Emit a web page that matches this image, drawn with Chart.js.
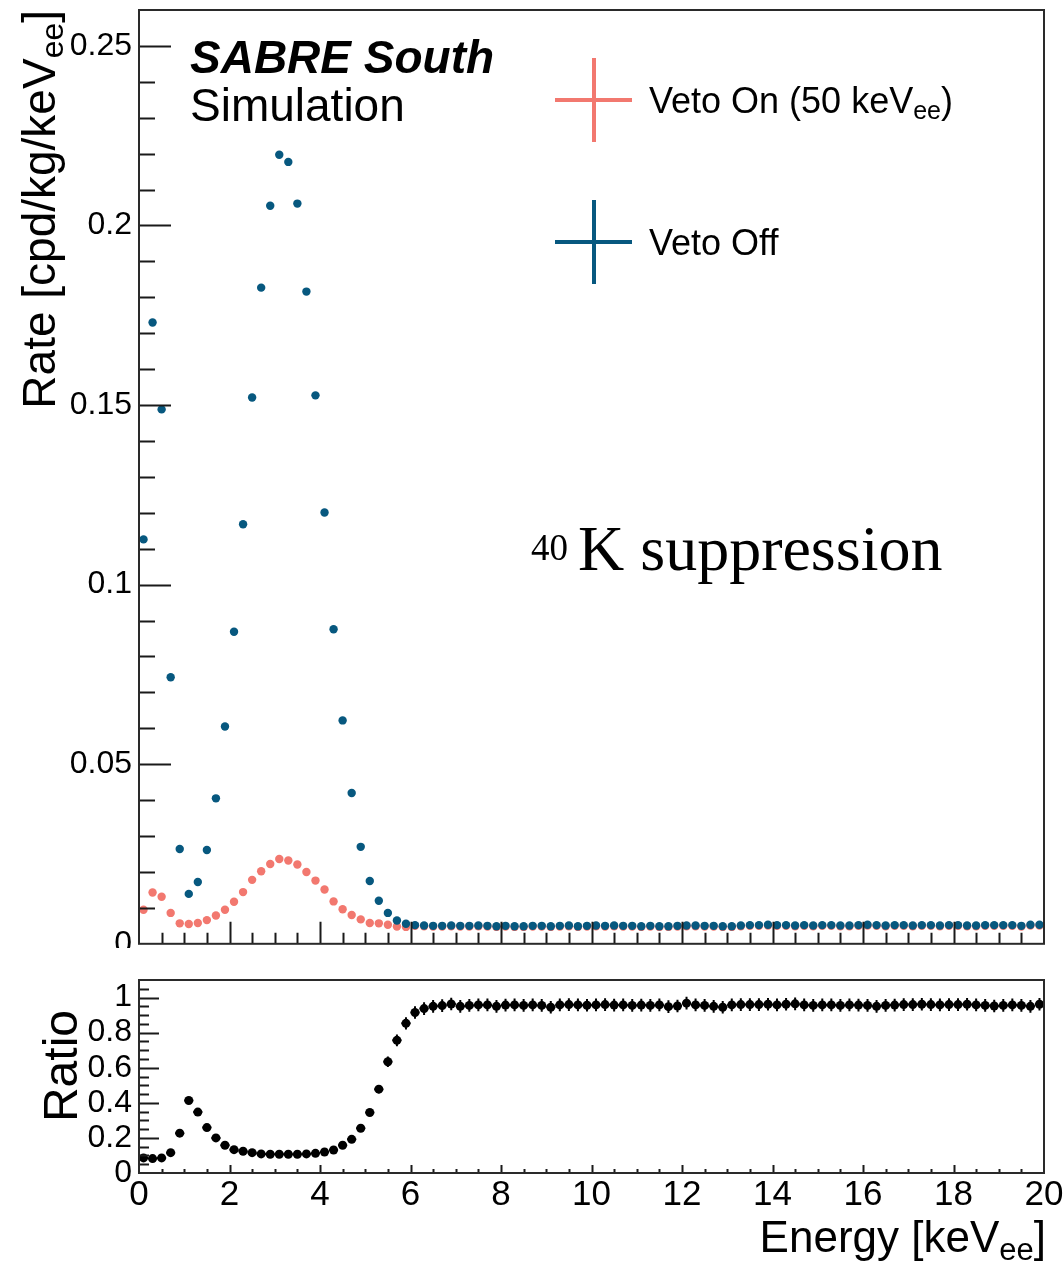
<!DOCTYPE html>
<html>
<head>
<meta charset="utf-8">
<title>SABRE South - 40K suppression</title>
<script src="https://cdn.jsdelivr.net/npm/chart.js@4.4.0/dist/chart.umd.min.js"></script>
<style>
  body { margin: 0; background: #fff; }
  #wrap { position: relative; width: 1063px; height: 1263px; background: #fff; }
  canvas { position: absolute; left: 0; }
  #rate { top: 0; }
  #ratio { top: 948px; }
</style>
</head>
<body>
<div id="wrap">
  <canvas id="rate" width="1063" height="948"></canvas>
  <canvas id="ratio" width="1063" height="315"></canvas>
</div>
<script>
// bin centres, 0.2 keV wide bins from 0 to 20 keVee
const binWidth = 0.2;
const energy = Array.from({ length: 100 }, (_, i) => +(binWidth / 2 + binWidth * i).toFixed(1));

// rate, cpd/kg/keVee, veto off
const vetoOff = [
  0.1126, 0.1730, 0.1488, 0.0742, 0.0264, 0.0139, 0.0172, 0.0261, 0.0405, 0.0605,
  0.0869, 0.1168, 0.1521, 0.1827, 0.2055, 0.2197, 0.2177, 0.2061, 0.1816, 0.1527,
  0.1201, 0.0876, 0.0622, 0.0420, 0.0270, 0.0175, 0.0120, 0.0086, 0.0065, 0.0056,
  0.0052, 0.0051, 0.0050, 0.0050, 0.0051, 0.0050, 0.0050, 0.0051, 0.0050, 0.0049,
  0.0050, 0.0049, 0.0049, 0.0050, 0.0050, 0.0049, 0.0050, 0.0051, 0.0049, 0.0050,
  0.0051, 0.0050, 0.0051, 0.0050, 0.0050, 0.0049, 0.0050, 0.0049, 0.0049, 0.0050,
  0.0051, 0.0051, 0.0050, 0.0050, 0.0049, 0.0049, 0.0051, 0.0052, 0.0052, 0.0053,
  0.0052, 0.0052, 0.0051, 0.0052, 0.0051, 0.0052, 0.0052, 0.0051, 0.0051, 0.0052,
  0.0053, 0.0052, 0.0051, 0.0052, 0.0052, 0.0051, 0.0052, 0.0052, 0.0051, 0.0052,
  0.0052, 0.0051, 0.0051, 0.0052, 0.0052, 0.0052, 0.0052, 0.0050, 0.0053, 0.0053
];

// rate, cpd/kg/keVee, veto on (50 keVee threshold)
const vetoOn = [
  0.0095, 0.0143, 0.0131, 0.0086, 0.0057, 0.0055, 0.0058, 0.0066, 0.0079, 0.0095,
  0.0117, 0.0144, 0.0178, 0.0202, 0.0222, 0.0236, 0.0232, 0.0221, 0.0200, 0.0176,
  0.0151, 0.0118, 0.0096, 0.0080, 0.0068, 0.0058, 0.0057, 0.0053, 0.0048, 0.0047,
  0.0050, 0.0049, 0.0048, 0.0048, 0.0049, 0.0048, 0.0048, 0.0049, 0.0048, 0.0047,
  0.0048, 0.0047, 0.0047, 0.0048, 0.0048, 0.0047, 0.0048, 0.0049, 0.0047, 0.0048,
  0.0049, 0.0048, 0.0049, 0.0048, 0.0048, 0.0047, 0.0048, 0.0047, 0.0047, 0.0048,
  0.0049, 0.0049, 0.0048, 0.0048, 0.0047, 0.0047, 0.0049, 0.0050, 0.0050, 0.0051,
  0.0050, 0.0050, 0.0049, 0.0050, 0.0049, 0.0050, 0.0050, 0.0049, 0.0049, 0.0050,
  0.0051, 0.0050, 0.0049, 0.0050, 0.0050, 0.0049, 0.0050, 0.0050, 0.0049, 0.0050,
  0.0050, 0.0049, 0.0049, 0.0050, 0.0050, 0.0050, 0.0050, 0.0048, 0.0051, 0.0051
];

// veto on / veto off
const ratio = [
  0.086, 0.082, 0.086, 0.116, 0.227, 0.413, 0.347, 0.259, 0.200, 0.158,
  0.133, 0.124, 0.116, 0.109, 0.107, 0.107, 0.107, 0.107, 0.109, 0.112,
  0.120, 0.131, 0.158, 0.192, 0.255, 0.345, 0.478, 0.634, 0.756, 0.853,
  0.915, 0.937, 0.950, 0.954, 0.963, 0.950, 0.955, 0.958, 0.958, 0.950,
  0.957, 0.958, 0.955, 0.958, 0.955, 0.945, 0.958, 0.960, 0.958, 0.956,
  0.958, 0.960, 0.957, 0.958, 0.955, 0.957, 0.955, 0.958, 0.948, 0.952,
  0.968, 0.958, 0.955, 0.950, 0.945, 0.958, 0.960, 0.960, 0.960, 0.962,
  0.958, 0.962, 0.964, 0.958, 0.955, 0.958, 0.958, 0.955, 0.958, 0.957,
  0.955, 0.950, 0.955, 0.957, 0.960, 0.960, 0.962, 0.960, 0.958, 0.960,
  0.960, 0.962, 0.958, 0.955, 0.952, 0.955, 0.958, 0.955, 0.950, 0.962
];

const ratioErr = [
  0.006, 0.005, 0.005, 0.007, 0.012, 0.018, 0.015, 0.012, 0.010, 0.008,
  0.007, 0.006, 0.005, 0.005, 0.005, 0.005, 0.005, 0.005, 0.005, 0.005,
  0.006, 0.006, 0.008, 0.010, 0.013, 0.018, 0.024, 0.030, 0.033, 0.035,
  0.036, 0.036, 0.036, 0.036, 0.036, 0.036, 0.036, 0.036, 0.036, 0.036,
  0.036, 0.036, 0.036, 0.036, 0.036, 0.036, 0.036, 0.036, 0.036, 0.036,
  0.036, 0.036, 0.036, 0.036, 0.036, 0.036, 0.036, 0.036, 0.036, 0.036,
  0.036, 0.036, 0.036, 0.036, 0.036, 0.036, 0.036, 0.036, 0.036, 0.036,
  0.036, 0.036, 0.036, 0.036, 0.036, 0.036, 0.036, 0.036, 0.036, 0.036,
  0.036, 0.036, 0.036, 0.036, 0.036, 0.036, 0.036, 0.036, 0.036, 0.036,
  0.036, 0.036, 0.036, 0.036, 0.036, 0.036, 0.036, 0.036, 0.036, 0.036
];

const BLUE = '#07587f';
const RED = '#f2786f';
const SANS = '"Liberation Sans", Arial, Helvetica, sans-serif';
const SERIF = '"Liberation Serif", "DejaVu Serif", serif';

Chart.defaults.font.family = SANS;
Chart.defaults.color = '#000';

function majorLabel(step, digits) {
    return function (v) {
        const k = Math.round(v / step);
        return Math.abs(v - k * step) < 1e-9 ? String(parseFloat(v.toFixed(digits))) : '';
    };
}

// draw text made of pieces (for subscripts), returns total width
function drawRich(ctx, parts, x, y, align) {
    let w = 0;
    parts.forEach(p => { ctx.font = p.font; w += ctx.measureText(p.t).width; });
    let cx = align === 'right' ? x - w : x;
    parts.forEach(p => {
        ctx.font = p.font;
        ctx.fillText(p.t, cx, y + (p.dy || 0));
        cx += ctx.measureText(p.t).width;
    });
    return w;
}

// ROOT style frame with ticks pointing into the pad
function framePlugin(id, xLen, yLen) {
    return {
        id: id,
        afterDatasetsDraw(chart) {
            const ctx = chart.ctx, a = chart.chartArea;
            const xs = chart.scales.x, ys = chart.scales.y;
            ctx.save();
            ctx.strokeStyle = '#1a1a1a';
            ctx.lineWidth = 2;
            ctx.beginPath();
            xs.ticks.forEach(t => {
                if (t.value <= xs.min || t.value >= xs.max) return;
                const px = Math.round(xs.getPixelForValue(t.value)) + 0.5;
                const len = t.label !== '' ? xLen[0] : xLen[1];
                ctx.moveTo(px, a.bottom);
                ctx.lineTo(px, a.bottom - len);
            });
            ys.ticks.forEach(t => {
                if (t.value <= ys.min || t.value >= ys.max) return;
                const py = Math.round(ys.getPixelForValue(t.value)) + 0.5;
                const len = t.label !== '' ? yLen[0] : yLen[1];
                ctx.moveTo(a.left, py);
                ctx.lineTo(a.left + len, py);
            });
            ctx.stroke();
            ctx.strokeStyle = '#2a2a2a';
            ctx.strokeRect(a.left, a.top, a.right - a.left, a.bottom - a.top);
            ctx.restore();
        }
    };
}

const topText = {
    id: 'topText',
    afterDraw(chart) {
        const ctx = chart.ctx;
        ctx.save();
        ctx.fillStyle = '#000';
        ctx.textBaseline = 'alphabetic';
        ctx.textAlign = 'left';

        ctx.font = 'bold italic 46px ' + SANS;
        ctx.fillText('SABRE South', 190, 73);
        ctx.font = '46px ' + SANS;
        ctx.fillText('Simulation', 190, 121);

        // legend entries, drawn as error-bar crosses
        const entries = [
            { color: RED, cy: 100, parts: [
                { t: 'Veto On (50 keV', font: '36px ' + SANS },
                { t: 'ee', font: '25px ' + SANS, dy: 6 },
                { t: ')', font: '36px ' + SANS }] },
            { color: BLUE, cy: 242, parts: [
                { t: 'Veto Off', font: '36px ' + SANS }] }
        ];
        entries.forEach(e => {
            ctx.strokeStyle = e.color;
            ctx.lineWidth = 4;
            ctx.beginPath();
            ctx.moveTo(555, e.cy); ctx.lineTo(632, e.cy);
            ctx.moveTo(594, e.cy - 42); ctx.lineTo(594, e.cy + 42);
            ctx.stroke();
            ctx.fillStyle = '#000';
            drawRich(ctx, e.parts, 649, e.cy + 13, 'left');
        });

        // annotation
        ctx.font = '37px ' + SERIF;
        ctx.fillText('40', 531, 560);
        ctx.font = '64px ' + SERIF;
        ctx.fillText('K suppression', 578, 570);

        // y axis title
        ctx.translate(55, 10);
        ctx.rotate(-Math.PI / 2);
        drawRich(ctx, [
            { t: 'Rate [cpd/kg/keV', font: '46px ' + SANS },
            { t: 'ee', font: '32px ' + SANS, dy: 8 },
            { t: ']', font: '46px ' + SANS }], 0, 0, 'right');
        ctx.restore();
    }
};

const bottomText = {
    id: 'bottomText',
    afterDraw(chart) {
        const ctx = chart.ctx;
        ctx.save();
        ctx.fillStyle = '#000';
        ctx.textBaseline = 'alphabetic';
        drawRich(ctx, [
            { t: 'Energy [keV', font: '44px ' + SANS },
            { t: 'ee', font: '31px ' + SANS, dy: 8 },
            { t: ']', font: '44px ' + SANS }], 1046, 304, 'right');
        ctx.translate(77, 62);
        ctx.rotate(-Math.PI / 2);
        drawRich(ctx, [{ t: 'Ratio', font: '48px ' + SANS }], 0, 0, 'right');
        ctx.restore();
    }
};

const errorBars = {
    id: 'errorBars',
    beforeDatasetsDraw(chart) {
        const ctx = chart.ctx, xs = chart.scales.x, ys = chart.scales.y;
        ctx.save();
        ctx.strokeStyle = '#000';
        ctx.lineWidth = 2;
        ctx.beginPath();
        energy.forEach((e, i) => {
            const px = xs.getPixelForValue(e), py = ys.getPixelForValue(ratio[i]);
            ctx.moveTo(px, ys.getPixelForValue(ratio[i] - ratioErr[i]));
            ctx.lineTo(px, ys.getPixelForValue(ratio[i] + ratioErr[i]));
            ctx.moveTo(xs.getPixelForValue(e - binWidth / 2), py);
            ctx.lineTo(xs.getPixelForValue(e + binWidth / 2), py);
        });
        ctx.stroke();
        ctx.restore();
    }
};

function points(values) {
    return energy.map((e, i) => ({ x: e, y: values[i] }));
}

const rateChart = new Chart(document.getElementById('rate'), {
    type: 'scatter',
    data: {
        datasets: [
            { label: 'Veto Off', data: points(vetoOff), backgroundColor: BLUE, pointRadius: 4.2, borderWidth: 0 },
            { label: 'Veto On (50 keVee)', data: points(vetoOn), backgroundColor: RED, pointRadius: 4.2, borderWidth: 0 }
        ]
    },
    options: {
        responsive: false,
        animation: false,
        events: [],
        layout: { padding: { left: 0, right: 19, top: 10, bottom: 0 } },
        plugins: { legend: { display: false }, tooltip: { enabled: false } },
        scales: {
            x: {
                type: 'linear', min: 0, max: 20,
                ticks: { stepSize: 0.5, display: false, autoSkip: false, callback: majorLabel(2, 0) },
                grid: { display: false, drawTicks: false },
                border: { display: false },
                afterFit: s => { s.height = 2; s.paddingLeft = 0; s.paddingRight = 0; }
            },
            y: {
                min: 0, max: 0.26,
                ticks: { stepSize: 0.01, autoSkip: false, padding: 7, color: '#000',
                         font: { size: 32 }, callback: majorLabel(0.05, 2) },
                grid: { display: false, drawTicks: false },
                border: { display: false },
                afterFit: s => { s.width = 139; s.paddingTop = 0; s.paddingBottom = 0; }
            }
        }
    },
    plugins: [framePlugin('rateFrame', [22, 11], [32, 16]), topText]
});

const ratioChart = new Chart(document.getElementById('ratio'), {
    type: 'scatter',
    data: {
        datasets: [
            { label: 'Ratio', data: points(ratio), backgroundColor: '#000', pointRadius: 4.5, borderWidth: 0 }
        ]
    },
    options: {
        responsive: false,
        animation: false,
        events: [],
        layout: { padding: { left: 0, right: 19, top: 32, bottom: 0 } },
        plugins: { legend: { display: false }, tooltip: { enabled: false } },
        scales: {
            x: {
                type: 'linear', min: 0, max: 20,
                ticks: { stepSize: 0.5, autoSkip: false, maxRotation: 0, padding: 1, color: '#000',
                         font: { size: 35 }, callback: majorLabel(2, 0) },
                grid: { display: false, drawTicks: false },
                border: { display: false },
                afterFit: s => { s.height = 90; s.paddingLeft = 0; s.paddingRight = 0; }
            },
            y: {
                min: 0, max: 1.1,
                ticks: { stepSize: 0.05, autoSkip: false, padding: 7, color: '#000',
                         font: { size: 32 }, callback: majorLabel(0.2, 1) },
                grid: { display: false, drawTicks: false },
                border: { display: false },
                afterFit: s => { s.width = 139; s.paddingTop = 0; s.paddingBottom = 0; }
            }
        }
    },
    plugins: [errorBars, framePlugin('ratioFrame', [8, 4], [20, 10]), bottomText]
});
</script>
</body>
</html>
